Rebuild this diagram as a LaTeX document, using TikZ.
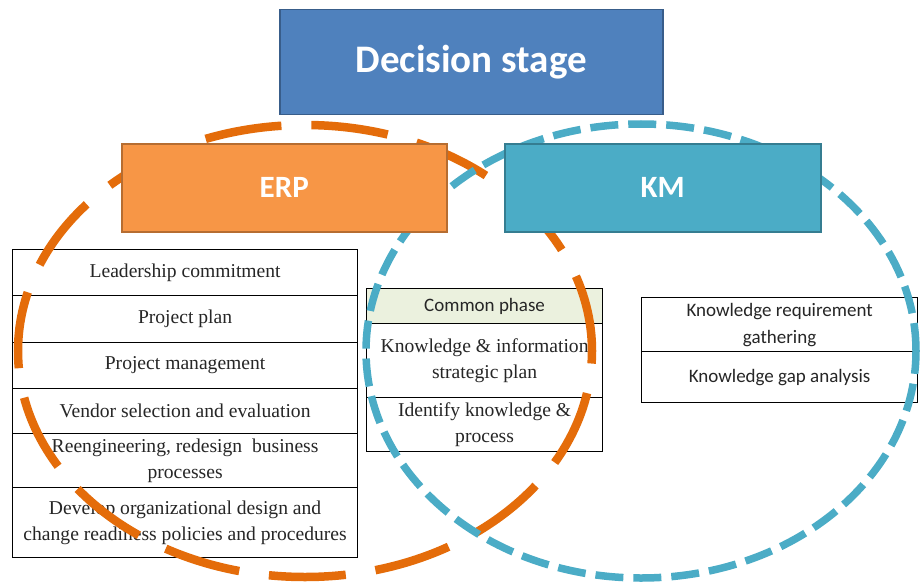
\documentclass[tikz,border=0pt]{standalone}
\usepackage{fontspec}
\setmainfont{Liberation Serif}
\newfontfamily\calibri{Carlito}
\definecolor{stageblue}{HTML}{4F81BD}
\definecolor{stageedge}{HTML}{385D8A}
\definecolor{erpfill}{HTML}{F79646}
\definecolor{erpedge}{HTML}{B66D31}
\definecolor{kmfill}{HTML}{4BACC6}
\definecolor{kmedge}{HTML}{357D91}
\definecolor{erpline}{HTML}{E46C0A}
\definecolor{kmline}{HTML}{4BACC6}
\definecolor{phasefill}{HTML}{EBF1DE}
\tikzset{
  cell/.style={draw=black, line width=1.2pt, fill=white, anchor=north west,
    align=center, inner sep=0pt, text=black!85,
    font=\fontsize{19.6}{26}\selectfont},
  sanscell/.style={cell, font=\calibri\fontsize{19}{27}\selectfont},
  headbox/.style={anchor=north west, line width=1.5pt, inner sep=0pt,
    text=white, font=\calibri\bfseries\fontsize{31}{36}\selectfont},
  erpring/.style={draw=erpline, line width=8.5pt, dash pattern=on 77pt off 30pt},
  kmring/.style={draw=kmline, line width=7.5pt, dash pattern=on 28pt off 10pt},
}
\begin{document}
\begin{tikzpicture}[x=1pt, y=-1pt]
\useasboundingbox (0,0) rectangle (920,583);

% ERP activities
\node[cell, minimum width=345pt, minimum height=46pt] (l1) at (12,249) {Leadership commitment};
\node[cell, minimum width=345pt, minimum height=47pt] (l2) at (12,295) {Project plan};
\node[cell, minimum width=345pt, minimum height=46pt] (l3) at (12,342) {Project management};
\node[cell, minimum width=345pt, minimum height=45pt] (l4) at (12,388) {Vendor selection and evaluation};
\node[cell, minimum width=345pt, minimum height=54pt] (l5) at (12,433) {Reengineering, redesign~ business\\processes};
\node[cell, minimum width=345pt, minimum height=70pt] (l6) at (12,487) {Develop organizational design and\\change readiness policies and procedures};

% Common phase
\node[sanscell, fill=phasefill, minimum width=236pt, minimum height=35pt] (c1) at (366,288) {Common phase};
\node[cell, minimum width=236pt, minimum height=74pt] (c2) at (366,323) {Knowledge \& information\\strategic plan};
\node[cell, minimum width=236pt, minimum height=54pt] (c3) at (366,397) {Identify knowledge \&\\process};

% KM activities
\node[sanscell, minimum width=276pt, minimum height=54pt] (k1) at (641,297) {Knowledge requirement\\gathering};
\node[sanscell, minimum width=276pt, minimum height=51pt] (k2) at (641,351) {Knowledge gap analysis};

% Dashed rings of the two domains
\draw[erpring] (305,351) ellipse [x radius=287pt, y radius=226pt];
\draw[kmring] (641,351) ellipse [x radius=275pt, y radius=227pt];

% Headers
\node[headbox, draw=stageedge, fill=stageblue, minimum width=383pt, minimum height=105pt,
  font=\calibri\bfseries\fontsize{39}{44}\selectfont] (stage) at (279,9) {Decision stage};
\node[headbox, draw=erpedge, fill=erpfill, minimum width=325pt, minimum height=88pt] (erp) at (121,143) {ERP};
\node[headbox, draw=kmedge, fill=kmfill, minimum width=316pt, minimum height=88pt] (km) at (504,143) {KM};
\end{tikzpicture}
\end{document}
